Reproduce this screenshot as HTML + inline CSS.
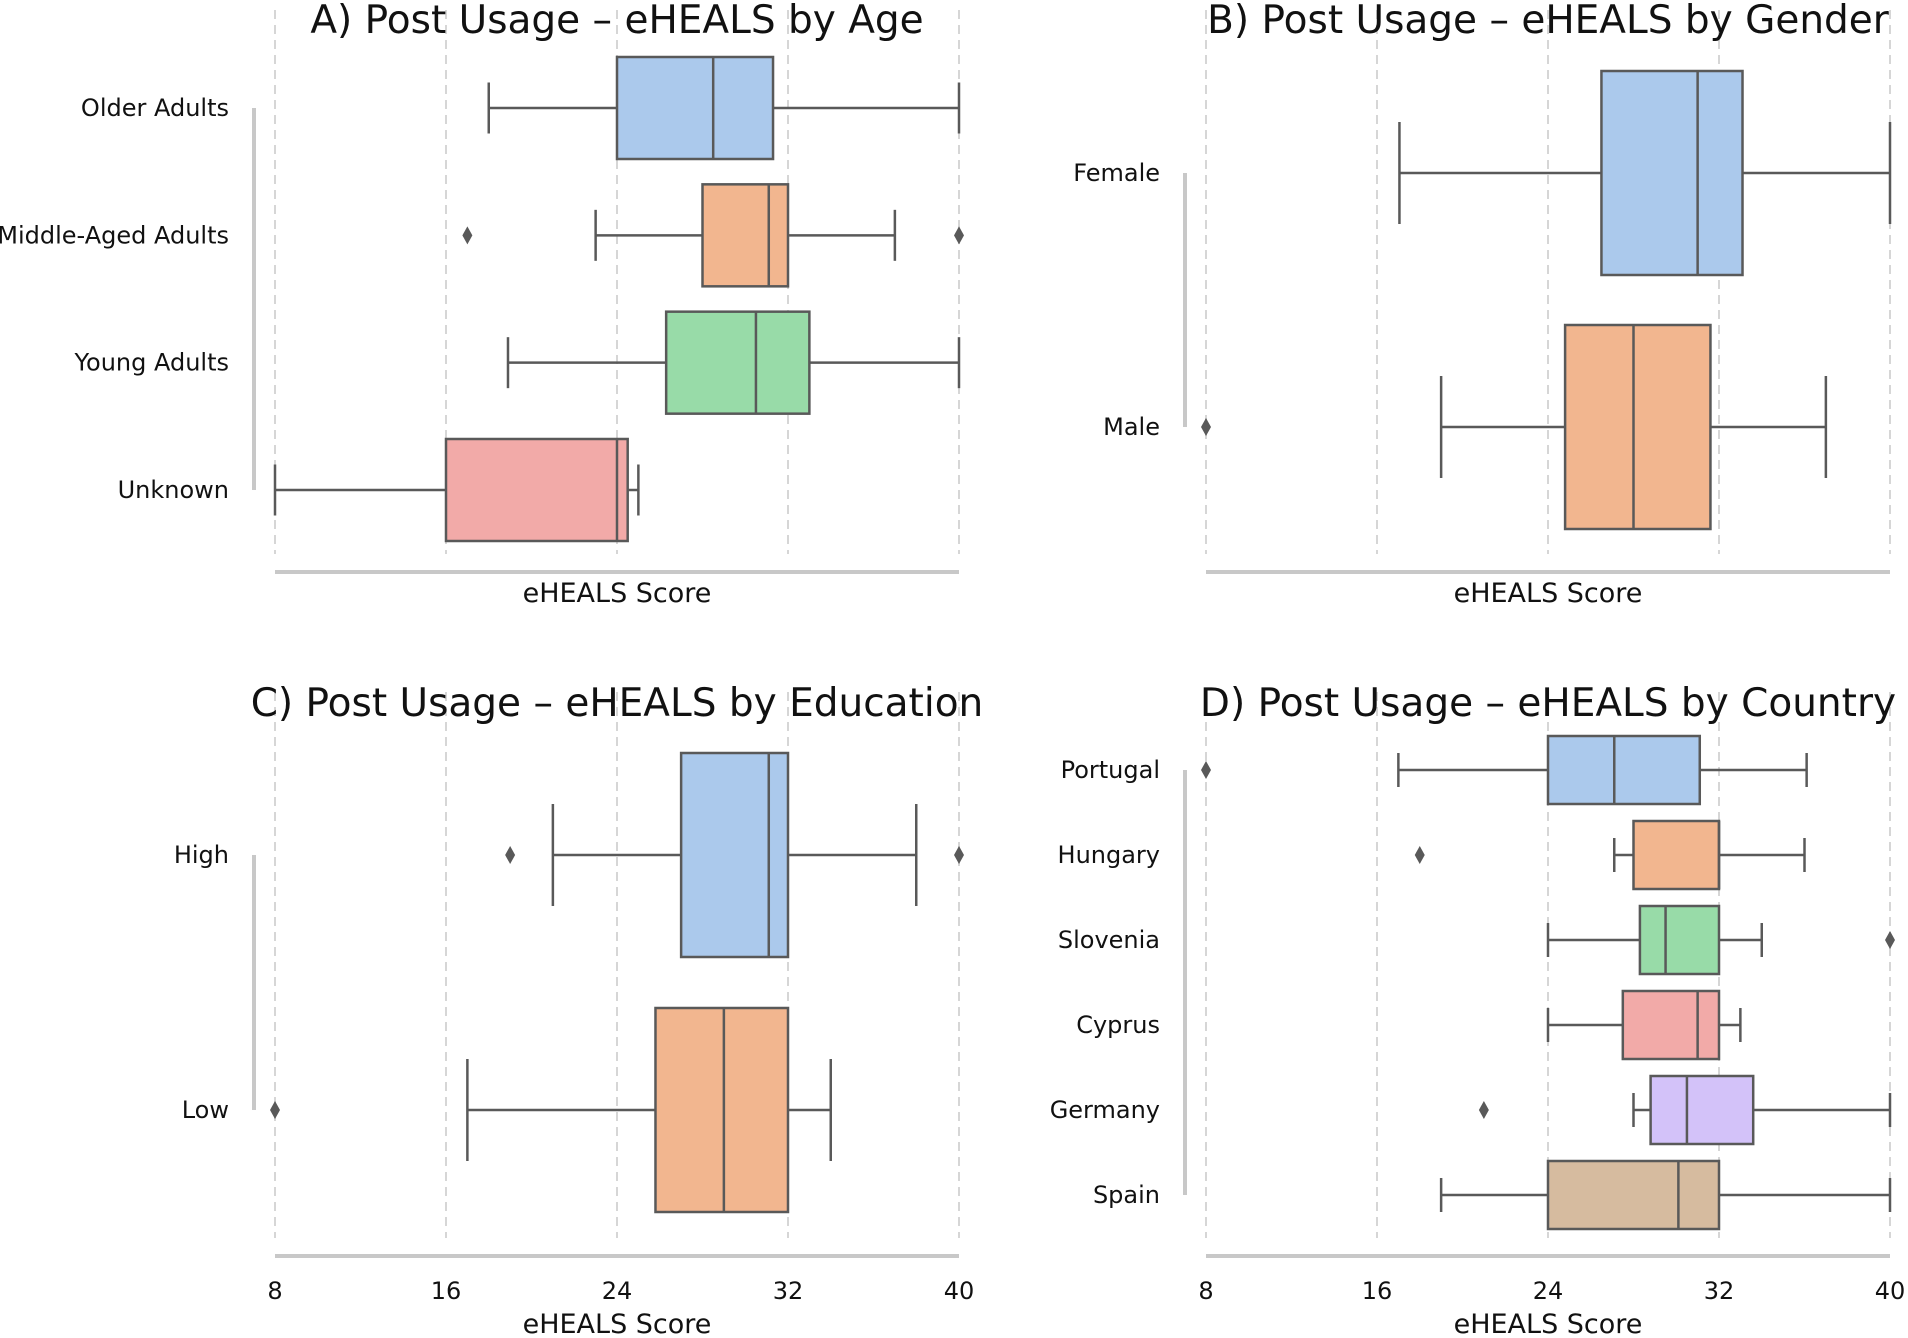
<!DOCTYPE html>
<html><head><meta charset="utf-8"><style>
html,body{margin:0;padding:0;background:#fff}
svg{display:block;font-family:"DejaVu Sans","Liberation Sans",sans-serif}
</style></head><body>
<svg id="chart" width="1908" height="1338" viewBox="0 0 1908 1338"></svg>
<script>
const ticks = [8,16,24,32,40];
const ageCats = ["Older Adults","Middle-Aged Adults","Young Adults","Unknown"];
const ageStats = [[18,24,28.5,31.3,40],[23,28,31.1,32,37],[18.9,26.3,30.5,33,40],[8,16,24,24.5,25]];
const ageOut = [[],[17,40],[],[]];
const genderCats = ["Female","Male"];
const genderStats = [[17.05,26.5,31,33.1,40],[19,24.8,28,31.6,37]];
const genderOut = [[],[8]];
const eduCats = ["High","Low"];
const eduStats = [[21,27,31.1,32,38],[17,25.8,29,32,34]];
const eduOut = [[19,40],[8]];
const countryCats = ["Portugal","Hungary","Slovenia","Cyprus","Germany","Spain"];
const countryStats = [[17,24,27.1,31.1,36.1],[27.1,28,32,32,36],[24,28.3,29.5,32,34],[24,27.5,31,32,33],[28,28.8,30.5,33.6,40],[19,24,30.1,32,40]];
const countryOut = [[8],[18],[40],[],[21],[]];
const colors = ["#abc9ec","#f2b68f","#98dba8","#f2aaa8","#d3c2f9","#d6bb9f"];

const svg = document.getElementById('chart');
const NS = "http://www.w3.org/2000/svg";
function mk(tag, attrs, parent){const e=document.createElementNS(NS,tag);for(const k in attrs)e.setAttribute(k,attrs[k]);(parent||svg).appendChild(e);return e;}

function panel(cfg){
  const g = mk('g',{});
  
  
  const xs = v => cfg.x0 + (v-8)/(40-8)*(cfg.x1-cfg.x0);
  const n = cfg.cats.length;
  const ys = i => cfg.yFirst + i*(cfg.yLast-cfg.yFirst)/(n-1 || 1);
  ticks.forEach(t=>{
    const l = mk('line',{x1:xs(t),x2:xs(t),y1:cfg.gTop,y2:cfg.gBot,stroke:"#d6d6d6","stroke-width":2,"stroke-dasharray":"9,6"},g);
    
    
  });
  const t = mk('text',{x:(cfg.x0+cfg.x1)/2,y:cfg.titleY,"text-anchor":"middle","font-size":39,fill:"#111"},g);
  t.textContent = cfg.title;
  
  
  const bs = mk('line',{x1:cfg.x0,x2:cfg.x1,y1:cfg.spineY,y2:cfg.spineY,stroke:"#c8c8c8","stroke-width":4},g);
  
  
  const ls = mk('line',{x1:cfg.x0-21,x2:cfg.x0-21,y1:ys(0),y2:ys(n-1),stroke:"#c8c8c8","stroke-width":4},g);
  
  
  if(cfg.showTicks){
    ticks.forEach(v=>{
      const tl = mk('text',{x:xs(v),y:cfg.spineY+43,"text-anchor":"middle","font-size":24,fill:"#111"},g);
      tl.textContent = v;
      
      
    });
  }
  const xl = mk('text',{x:(cfg.x0+cfg.x1)/2,y:cfg.xlabY,"text-anchor":"middle","font-size":27,fill:"#111"},g);
  xl.textContent = "eHEALS Score";
  
  
  cfg.cats.forEach((c,i)=>{
    const y = ys(i), h = cfg.half, s = cfg.stats[i];
    const lab = mk('text',{x:cfg.x0-46,y:y+8,"text-anchor":"end","font-size":24,fill:"#111"},g);
    lab.textContent = c;
    
    
    const bg = mk('g',{},g);
    
    
    const st = {stroke:"#595959","stroke-width":2.5};
    mk('line',Object.assign({x1:xs(s[0]),x2:xs(s[1]),y1:y,y2:y},st),bg);
    mk('line',Object.assign({x1:xs(s[3]),x2:xs(s[4]),y1:y,y2:y},st),bg);
    mk('line',Object.assign({x1:xs(s[0]),x2:xs(s[0]),y1:y-h/2,y2:y+h/2},st),bg);
    mk('line',Object.assign({x1:xs(s[4]),x2:xs(s[4]),y1:y-h/2,y2:y+h/2},st),bg);
    mk('rect',Object.assign({x:xs(s[1]),y:y-h,width:xs(s[3])-xs(s[1]),height:2*h,fill:colors[i]},st),bg);
    mk('line',Object.assign({x1:xs(s[2]),x2:xs(s[2]),y1:y-h,y2:y+h},st),bg);
    cfg.out[i].forEach(o=>{
      const px=xs(o);
      const d = mk('path',{d:`M${px} ${y-9}L${px+5} ${y}L${px} ${y+9}L${px-5} ${y}Z`,fill:"#595959"},bg);
      
      
    });
  });
}
panel({name:"panel-a-age",title:"A) Post Usage – eHEALS by Age",cats:ageCats,stats:ageStats,out:ageOut,x0:275,x1:959,yFirst:108,yLast:490,half:51,titleY:33,gTop:10,gBot:554,spineY:572,xlabY:602,showTicks:false});
panel({name:"panel-b-gender",title:"B) Post Usage – eHEALS by Gender",cats:genderCats,stats:genderStats,out:genderOut,x0:1206,x1:1890,yFirst:173,yLast:427,half:102,titleY:33,gTop:10,gBot:554,spineY:572,xlabY:602,showTicks:false});
panel({name:"panel-c-education",title:"C) Post Usage – eHEALS by Education",cats:eduCats,stats:eduStats,out:eduOut,x0:275,x1:959,yFirst:855,yLast:1110,half:102,titleY:716,gTop:692,gBot:1238,spineY:1256,xlabY:1333,showTicks:true});
panel({name:"panel-d-country",title:"D) Post Usage – eHEALS by Country",cats:countryCats,stats:countryStats,out:countryOut,x0:1206,x1:1890,yFirst:770,yLast:1195,half:34,titleY:716,gTop:692,gBot:1238,spineY:1256,xlabY:1333,showTicks:true});
</script>
</body></html>
